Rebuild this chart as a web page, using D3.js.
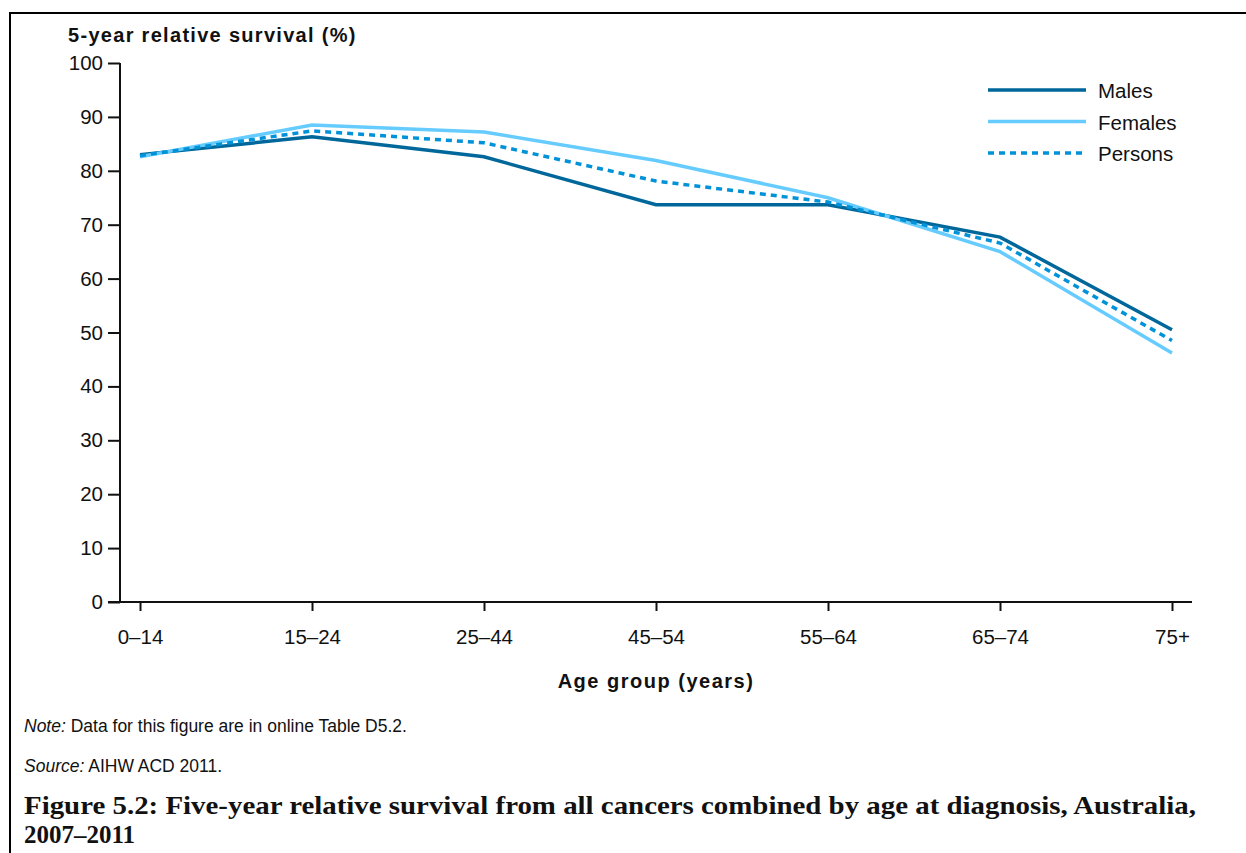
<!DOCTYPE html>
<html lang="en">
<head>
<meta charset="UTF-8">
<title>Figure 5.2</title>
<style>
    body { margin: 0; background: #fff; }
    svg text { font-family: "Liberation Sans", Arial, sans-serif; fill: #111; }
    .axis path, .axis line { stroke: #111; stroke-width: 2px; }
    .axis text { font-size: 20.5px; font-family: "Liberation Sans", Arial, sans-serif; }
    .caption { font-family: "Liberation Serif", "Times New Roman", serif; }
</style>
<script src="https://cdn.jsdelivr.net/npm/d3@7/dist/d3.min.js"></script>
</head>
<body>
<svg id="grafico" width="1246" height="853"></svg>
<script>
// data
const ageGroups = ['0–14', '15–24', '25–44', '45–54', '55–64', '65–74', '75+'];
const males   = [83.0, 86.3, 82.6, 73.7, 73.7, 67.7, 50.5];
const females = [82.6, 88.5, 87.2, 81.9, 75.0, 65.0, 46.2];
const persons = [82.8, 87.4, 85.2, 78.1, 74.2, 66.6, 48.5];
const yTicks = [0, 10, 20, 30, 40, 50, 60, 70, 80, 90, 100];

const series = [
    { name: 'Males', values: males, color: '#00679b', dash: null },
    { name: 'Females', values: females, color: '#66ccff', dash: null },
    { name: 'Persons', values: persons, color: '#0092d8', dash: '6,5' }
];

const svg = d3.select('#grafico');

// outer frame (runs off right and bottom)
svg.append('rect')
    .attr('x', 10).attr('y', 13)
    .attr('width', 1260).attr('height', 900)
    .attr('fill', 'none').attr('stroke', '#000').attr('stroke-width', 2);

const plotL = 120, plotR = 1192, plotT = 63, plotB = 602;

const x = d3.scalePoint().domain(ageGroups).range([plotL, plotR]).padding(0.1163);
const y = d3.scaleLinear().domain([0, 100]).range([plotB, plotT]);

// y axis
const yAxis = svg.append('g')
    .attr('class', 'axis')
    .attr('transform', `translate(${plotL},0)`)
    .call(d3.axisLeft(y).tickValues(yTicks).tickSize(12).tickSizeOuter(0).tickPadding(5));
yAxis.select('.domain').attr('d', `M0,${plotB}V${plotT}`);

// x axis
const xAxis = svg.append('g')
    .attr('class', 'axis')
    .attr('transform', `translate(0,${plotB})`)
    .call(d3.axisBottom(x).tickSize(9).tickSizeOuter(0).tickPadding(18));
xAxis.select('.domain').attr('d', `M${plotL - 12},0H${plotR}`);

// axis titles
svg.append('text')
    .attr('x', 68).attr('y', 42)
    .style('font-size', '20px').style('font-weight', 'bold').style('letter-spacing', '1.3px')
    .text('5-year relative survival (%)');

svg.append('text')
    .attr('x', 656).attr('y', 688)
    .attr('text-anchor', 'middle')
    .style('font-size', '20px').style('font-weight', 'bold').style('letter-spacing', '1.5px')
    .text('Age group (years)');

// lines
const line = d3.line()
    .x((d, i) => x(ageGroups[i]))
    .y(d => y(d));

svg.selectAll('.serie')
    .data(series)
    .enter()
    .append('path')
    .attr('class', 'serie')
    .attr('d', d => line(d.values))
    .attr('fill', 'none')
    .attr('stroke', d => d.color)
    .attr('stroke-width', 3.5)
    .attr('stroke-dasharray', d => d.dash);

// legend
const legend = svg.selectAll('.legenda')
    .data(series)
    .enter()
    .append('g')
    .attr('class', 'legenda')
    .attr('transform', (d, i) => `translate(988,${90 + i * 31.5})`);

legend.append('line')
    .attr('x1', 0).attr('x2', 98)
    .attr('stroke', d => d.color)
    .attr('stroke-width', 3.5)
    .attr('stroke-dasharray', d => d.dash);

legend.append('text')
    .attr('x', 110).attr('dy', 8)
    .style('font-size', '20.5px')
    .text(d => d.name);

// notes
const note = svg.append('text').attr('x', 24).attr('y', 732).style('font-size', '17.5px');
note.append('tspan').style('font-style', 'italic').text('Note:');
note.append('tspan').text(' Data for this figure are in online Table D5.2.');

const src = svg.append('text').attr('x', 24).attr('y', 772).style('font-size', '17.5px');
src.append('tspan').style('font-style', 'italic').text('Source:');
src.append('tspan').text(' AIHW ACD 2011.');

svg.append('text')
    .attr('class', 'caption')
    .attr('x', 24).attr('y', 814)
    .attr('textLength', 1172).attr('lengthAdjust', 'spacingAndGlyphs')
    .style('font-size', '25px').style('font-weight', 'bold')
    .text('Figure 5.2: Five-year relative survival from all cancers combined by age at diagnosis, Australia,');

svg.append('text')
    .attr('class', 'caption')
    .attr('x', 24).attr('y', 843)
    .style('font-size', '25px').style('font-weight', 'bold')
    .text('2007–2011');
</script>
</body>
</html>
